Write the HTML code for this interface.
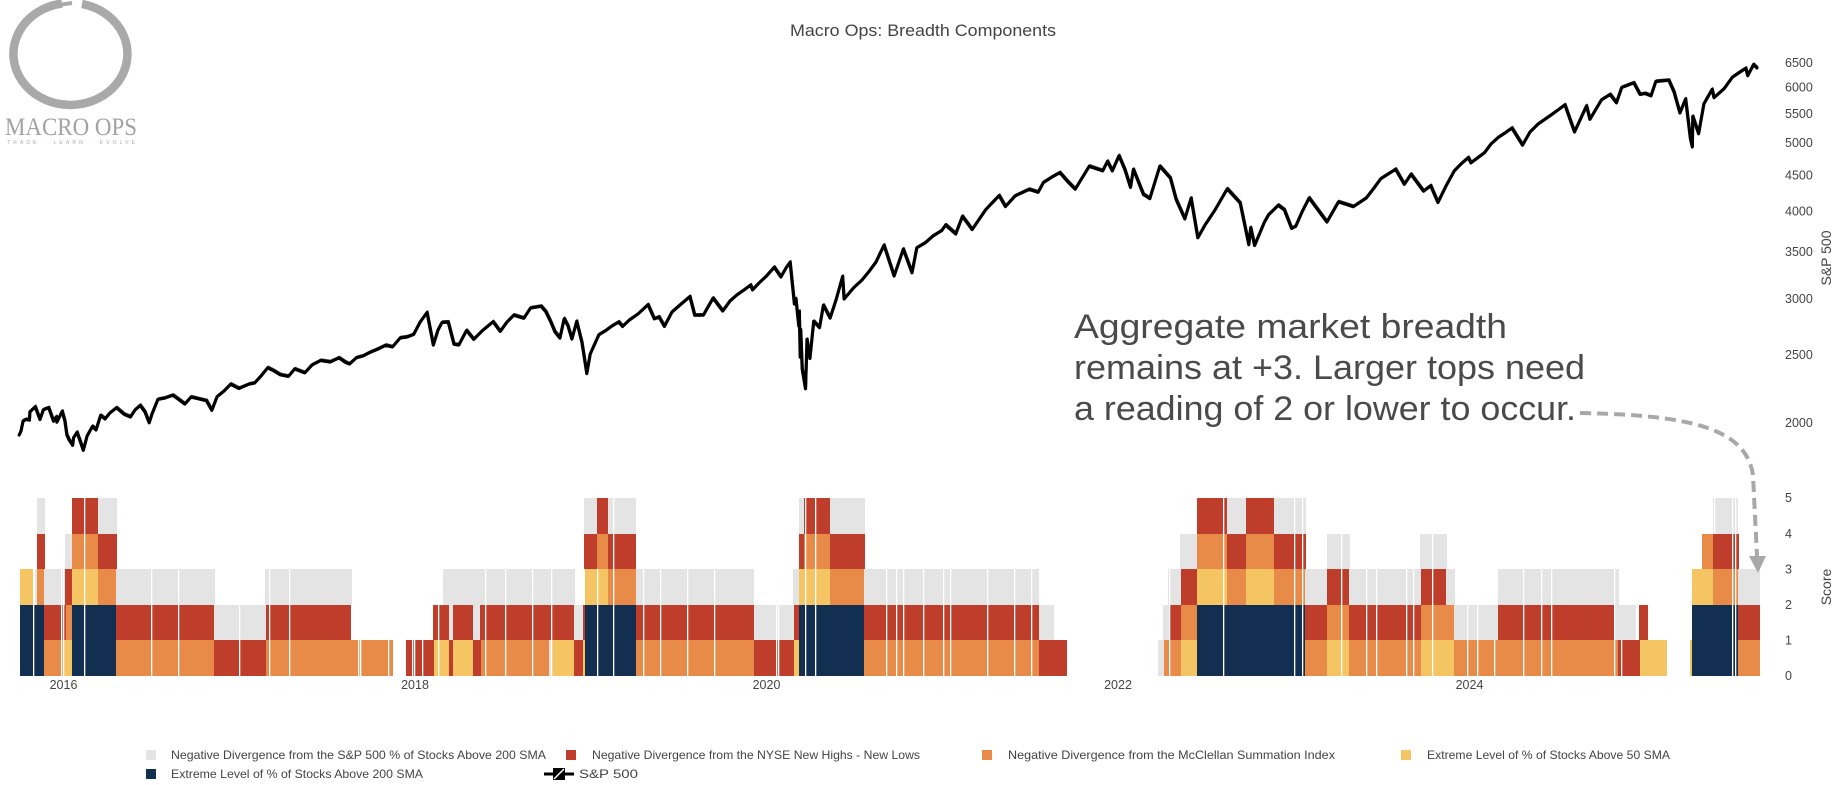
<!DOCTYPE html>
<html><head><meta charset="utf-8"><style>
html,body{margin:0;padding:0;background:#fff;}
svg{display:block;font-family:"Liberation Sans",Arial,sans-serif;}
.g{fill:#e4e4e4}.r{fill:#bf3e2b}.o{fill:#e88b49}.y{fill:#f5c463}.n{fill:#122e50}
.t{fill:#444;font-size:12.5px}
</style></head><body>
<svg width="1841" height="785" viewBox="0 0 1841 785" xmlns="http://www.w3.org/2000/svg">
<rect width="1841" height="785" fill="#fff"/>

<!-- Logo -->
<g>
<path d="M82,4 A57,51 0 1 1 62,3.5" fill="none" stroke="#a9a9a9" stroke-width="8.5"/>
<path d="M22,30 A52,48 0 0 0 40,98" fill="none" stroke="#a9a9a9" stroke-width="4"/>
<path d="M40,12 C52,6 62,4 72,3" fill="none" stroke="#a9a9a9" stroke-width="4"/>
<text x="5" y="135" font-family="Liberation Serif, serif" font-size="25" fill="#a3a3a3" textLength="132" lengthAdjust="spacingAndGlyphs">MACRO OPS</text>
<text x="7" y="144" font-family="Liberation Sans, sans-serif" font-size="5" fill="#aaa" textLength="128" lengthAdjust="spacing">TRADE · LEARN · EVOLVE</text>
</g>

<!-- Title -->
<text x="790" y="36" font-size="17" fill="#444" textLength="266" lengthAdjust="spacingAndGlyphs">Macro Ops: Breadth Components</text>

<!-- S&P axis ticks -->
<g class="t" dominant-baseline="central">
<text x="1785" y="63">6500</text>
<text x="1785" y="87.5">6000</text>
<text x="1785" y="114">5500</text>
<text x="1785" y="143">5000</text>
<text x="1785" y="175.5">4500</text>
<text x="1785" y="211.5">4000</text>
<text x="1785" y="252">3500</text>
<text x="1785" y="299">3000</text>
<text x="1785" y="355">2500</text>
<text x="1785" y="423">2000</text>
<text x="1785" y="498">5</text>
<text x="1785" y="534">4</text>
<text x="1785" y="569.5">3</text>
<text x="1785" y="605">2</text>
<text x="1785" y="640.5">1</text>
<text x="1785" y="676">0</text>
</g>
<text transform="translate(1831,258) rotate(-90)" text-anchor="middle" font-size="14" fill="#444">S&amp;P 500</text>
<text transform="translate(1831,587) rotate(-90)" text-anchor="middle" font-size="14" fill="#444">Score</text>

<!-- x axis labels -->
<g class="t" text-anchor="middle" dominant-baseline="central">
<text x="63.5" y="685">2016</text>
<text x="415" y="685">2018</text>
<text x="766.5" y="685">2020</text>
<text x="1118" y="685">2022</text>
<text x="1469.5" y="685">2024</text>
</g>

<!-- Heatmap rows -->
<g>
<!-- R5 -->
<g transform="translate(0,498)">
<rect class="g" x="37" width="8" height="36"/><rect class="r" x="72" width="26" height="36"/><rect class="g" x="98" width="19" height="36"/>
<rect class="g" x="584" width="13" height="36"/><rect class="r" x="597" width="11" height="36"/><rect class="g" x="608" width="28" height="36"/>
<rect class="g" x="799" width="5" height="36"/><rect class="r" x="804" width="26" height="36"/><rect class="g" x="830" width="35" height="36"/>
<rect class="r" x="1197" width="30" height="36"/><rect class="g" x="1227" width="19" height="36"/><rect class="r" x="1246" width="28" height="36"/><rect class="g" x="1274" width="32" height="36"/>
<rect class="g" x="1713" width="25" height="36"/>
</g>
<!-- R4 -->
<g transform="translate(0,534)">
<rect class="r" x="37" width="8" height="35"/><rect class="g" x="65" width="7" height="35"/><rect class="o" x="72" width="26" height="35"/><rect class="r" x="98" width="19" height="35"/>
<rect class="r" x="584" width="13" height="35"/><rect class="o" x="597" width="11" height="35"/><rect class="r" x="608" width="28" height="35"/>
<rect class="r" x="799" width="5" height="35"/><rect class="o" x="804" width="26" height="35"/><rect class="r" x="830" width="35" height="35"/>
<rect class="g" x="1180" width="17" height="35"/><rect class="o" x="1197" width="30" height="35"/><rect class="r" x="1227" width="19" height="35"/><rect class="o" x="1246" width="28" height="35"/><rect class="r" x="1274" width="32" height="35"/>
<rect class="g" x="1327" width="23" height="35"/><rect class="g" x="1420" width="27" height="35"/>
<rect class="o" x="1702" width="11" height="35"/><rect class="r" x="1713" width="26" height="35"/>
</g>
<!-- R3 -->
<g transform="translate(0,569)">
<rect class="y" x="20" width="13" height="36"/><rect class="g" x="35" width="2" height="36"/><rect class="o" x="37" width="7" height="36"/><rect class="g" x="44" width="21" height="36"/><rect class="r" x="65" width="7" height="36"/>
<rect class="y" x="72" width="26" height="36"/><rect class="o" x="98" width="18" height="36"/><rect class="g" x="116" width="99" height="36"/><rect class="g" x="265" width="87" height="36"/>
<rect class="g" x="443" width="132" height="36"/><rect class="y" x="585" width="23" height="36"/><rect class="o" x="608" width="28" height="36"/><rect class="g" x="636" width="118" height="36"/>
<rect class="g" x="793" width="6" height="36"/><rect class="y" x="799" width="31" height="36"/><rect class="o" x="830" width="34" height="36"/><rect class="g" x="864" width="175" height="36"/>
<rect class="g" x="1168" width="13" height="36"/><rect class="r" x="1181" width="16" height="36"/><rect class="y" x="1197" width="30" height="36"/><rect class="o" x="1227" width="19" height="36"/><rect class="y" x="1246" width="28" height="36"/><rect class="o" x="1274" width="31" height="36"/>
<rect class="g" x="1305" width="22" height="36"/><rect class="r" x="1327" width="22" height="36"/><rect class="g" x="1349" width="72" height="36"/><rect class="r" x="1421" width="25" height="36"/><rect class="g" x="1446" width="9" height="36"/>
<rect class="g" x="1498" width="121" height="36"/><rect class="y" x="1692" width="21" height="36"/><rect class="o" x="1713" width="25" height="36"/><rect class="g" x="1738" width="22" height="36"/>
</g>
<!-- R2 -->
<g transform="translate(0,605)">
<rect class="n" x="20" width="24" height="35"/><rect class="r" x="44" width="22" height="35"/><rect class="o" x="66" width="6" height="35"/><rect class="n" x="72" width="44" height="35"/>
<rect class="r" x="116" width="98" height="35"/><rect class="g" x="214" width="52" height="35"/><rect class="r" x="266" width="85" height="35"/>
<rect class="r" x="433" width="16" height="35"/><rect class="g" x="449" width="4" height="35"/><rect class="r" x="453" width="20" height="35"/><rect class="g" x="473" width="7" height="35"/><rect class="r" x="480" width="94" height="35"/>
<rect class="g" x="574" width="9" height="35"/><rect class="r" x="583" width="2" height="35"/><rect class="n" x="585" width="51" height="35"/><rect class="r" x="636" width="118" height="35"/>
<rect class="g" x="754" width="40" height="35"/><rect class="r" x="794" width="5" height="35"/><rect class="n" x="799" width="65" height="35"/><rect class="r" x="864" width="175" height="35"/><rect class="g" x="1039" width="15" height="35"/>
<rect class="g" x="1163" width="7" height="35"/><rect class="r" x="1170" width="11" height="35"/><rect class="o" x="1181" width="16" height="35"/><rect class="n" x="1197" width="108" height="35"/>
<rect class="r" x="1305" width="22" height="35"/><rect class="o" x="1327" width="22" height="35"/><rect class="r" x="1349" width="72" height="35"/><rect class="o" x="1421" width="33" height="35"/>
<rect class="g" x="1454" width="44" height="35"/><rect class="r" x="1498" width="116" height="35"/><rect class="g" x="1614" width="22" height="35"/><rect class="r" x="1639" width="9" height="35"/>
<rect class="n" x="1692" width="46" height="35"/><rect class="r" x="1738" width="22" height="35"/>
</g>
<!-- R1 -->
<g transform="translate(0,640)">
<rect class="n" x="20" width="24" height="36"/><rect class="o" x="44" width="20" height="36"/><rect class="y" x="64" width="8" height="36"/><rect class="n" x="72" width="44" height="36"/>
<rect class="o" x="116" width="98" height="36"/><rect class="r" x="214" width="52" height="36"/><rect class="o" x="266" width="127" height="36"/>
<rect class="r" x="406" width="28" height="36"/><rect class="y" x="434" width="15" height="36"/><rect class="r" x="449" width="4" height="36"/><rect class="y" x="453" width="20" height="36"/><rect class="r" x="473" width="8" height="36"/>
<rect class="o" x="481" width="68" height="36"/><rect class="g" x="549" width="3" height="36"/><rect class="y" x="552" width="22" height="36"/><rect class="r" x="574" width="9" height="36"/><rect class="y" x="583" width="2" height="36"/>
<rect class="n" x="585" width="51" height="36"/><rect class="o" x="636" width="118" height="36"/><rect class="r" x="754" width="40" height="36"/><rect class="y" x="794" width="5" height="36"/><rect class="n" x="799" width="65" height="36"/>
<rect class="o" x="864" width="175" height="36"/><rect class="r" x="1039" width="28" height="36"/>
<rect class="g" x="1158" width="6" height="36"/><rect class="o" x="1164" width="17" height="36"/><rect class="y" x="1181" width="16" height="36"/><rect class="n" x="1197" width="108" height="36"/>
<rect class="o" x="1305" width="22" height="36"/><rect class="y" x="1327" width="22" height="36"/><rect class="o" x="1349" width="72" height="36"/><rect class="y" x="1421" width="33" height="36"/>
<rect class="o" x="1454" width="164" height="36"/><rect class="r" x="1618" width="22" height="36"/><rect class="y" x="1640" width="27" height="36"/>
<rect class="y" x="1690" width="2" height="36"/><rect class="n" x="1692" width="46" height="36"/><rect class="o" x="1738" width="22" height="36"/>
</g>
<!-- white separators -->
<g fill="#fff">
<rect x="33" y="498" width="1.3" height="178"/><rect x="61" y="498" width="1.3" height="178"/><rect x="63" y="569" width="1.3" height="107"/>
<rect x="84" y="498" width="1.3" height="178"/><rect x="151" y="569" width="1.3" height="107"/><rect x="178" y="569" width="1.3" height="107"/>
<rect x="239" y="569" width="1.3" height="107"/><rect x="269" y="569" width="1.3" height="107"/><rect x="289" y="569" width="1.3" height="107"/>
<rect x="358" y="640" width="1.3" height="36"/><rect x="360" y="640" width="1.3" height="36"/><rect x="388" y="640" width="1.3" height="36"/>
<rect x="412" y="605" width="1.3" height="71"/><rect x="414" y="605" width="1.3" height="71"/><rect x="422" y="605" width="1.3" height="71"/><rect x="438" y="569" width="1.3" height="107"/>
<rect x="485" y="569" width="1.3" height="107"/><rect x="505" y="569" width="1.3" height="107"/><rect x="532" y="569" width="1.3" height="107"/><rect x="551" y="569" width="1.3" height="107"/>
<rect x="597" y="569" width="1.3" height="107"/><rect x="613" y="498" width="1.3" height="178"/><rect x="643" y="569" width="1.3" height="107"/><rect x="660" y="569" width="1.3" height="107"/>
<rect x="687" y="569" width="1.3" height="107"/><rect x="714" y="569" width="1.3" height="107"/><rect x="776" y="605" width="1.3" height="71"/><rect x="778" y="605" width="1.3" height="71"/>
<rect x="805" y="498" width="1.3" height="178"/><rect x="815" y="498" width="1.3" height="178"/>
<rect x="886" y="569" width="1.3" height="107"/><rect x="896" y="569" width="1.3" height="107"/><rect x="903" y="569" width="1.3" height="107"/><rect x="923" y="569" width="1.3" height="107"/>
<rect x="943" y="569" width="1.3" height="107"/><rect x="950" y="569" width="1.3" height="107"/><rect x="987" y="569" width="1.3" height="107"/><rect x="1014" y="569" width="1.3" height="107"/><rect x="1031" y="569" width="1.3" height="107"/>
<rect x="1169" y="569" width="1.3" height="107"/><rect x="1223" y="498" width="1.3" height="178"/><rect x="1294" y="498" width="1.3" height="178"/><rect x="1302" y="498" width="1.3" height="178"/>
<rect x="1341" y="534" width="1.3" height="142"/><rect x="1366" y="569" width="1.3" height="107"/><rect x="1376" y="569" width="1.3" height="107"/><rect x="1406" y="569" width="1.3" height="107"/><rect x="1413" y="569" width="1.3" height="107"/>
<rect x="1432" y="534" width="1.3" height="142"/><rect x="1467" y="605" width="1.3" height="71"/><rect x="1477" y="605" width="1.3" height="71"/><rect x="1494" y="640" width="1.3" height="36"/>
<rect x="1523" y="569" width="1.3" height="107"/><rect x="1541" y="569" width="1.3" height="107"/><rect x="1551" y="569" width="1.3" height="107"/><rect x="1614" y="569" width="1.3" height="107"/><rect x="1621" y="640" width="1.3" height="36"/>
<rect x="1714" y="498" width="1.3" height="36"/><rect x="1732" y="498" width="1.3" height="178"/><rect x="1735" y="498" width="1.3" height="178"/>
</g>
</g>

<!-- S&P 500 line -->
<defs>
<polyline id="spx" fill="none" stroke-linejoin="round" stroke-linecap="round" points="
19.2,435.0 21,431 23.1,420.9 26.0,419.5 29.4,420.1 29.9,411.8 35.2,406.8 40.0,419.5 43.4,409.7 48.7,407.8 53.5,421.2 56.4,416.8 56.9,422.2 62.2,411.3
64.9,421.2 66.9,435.1 69.3,440.3 72.6,445.3 73.6,437.7 77.0,432.3 80.4,441.9 83.3,450.3 87.1,436.0 92.4,426.4 96,430 100.6,415.5 105,419 109.7,413.1 116.5,407.8
124.2,414.4 130.4,417.0 135,410 140.1,405.4 145,412 149.2,422.8 152,414 157.9,399.4 165,398 172.8,395.3 178,399 184.8,404.1 191.0,397.1 199,399 206.5,400.8 211.8,410.3
217.1,396.7 224,391 230.6,384.2 238.8,388.5 248.9,384.2 254.6,383.0 261,376 267.7,367.8 274,371 280.2,374.8 288.4,376.4 294.6,369.0 304.7,372.9 312,365 320.6,360.6
330,362 338.9,357.9 345.7,362.5 349.5,364.0 356.3,357.8 363,356 369.8,352.5 378,349 385.6,345.3 392.4,347.0 400.1,338.0 407,337 413.6,334.5
420.3,321.8 427.0,312.5 431.8,337.1 433.3,345.1 438,330 442.0,322.5 448.2,322.1 454.0,344.3 458.8,345.0 466.5,330.5 473.7,339.4 482,331 493.0,321.8 500.2,331.4
507,322 513.7,315.2 523.8,318.3 530.5,308.1 541.1,306.3 546,312 550.7,321.8 555,332 559.9,338.1 564.2,318.7 568,326 571.9,339.0 576.7,321.4 582.0,342.9 586.8,373.6 590.2,354.0
598.9,334.7 605.2,330.9 612,326 618.7,322.0 622.5,326.5 629.3,320.1 638,314 648.0,304.7 654.3,318.9 659,317 664.4,326.4 672,312 680,305 689.9,296.6 694.7,315.3 703.4,315.1
713.0,298.2 722.7,311.0 730,301 736.6,295.2 744,290 750.6,285.1 752.5,289.9 759,283 766.0,276.5 774.2,267.3 780.9,277.0 786,268 790.1,262.2 794.4,304.0 795.9,298.9
798.8,326.1 799.3,311.4 800.2,357.2 800.7,330.1 802.2,369.1 805.5,388.8 807.0,339.4 809.9,358.5 813.7,321.4 819.5,327.7 823.4,305.3 830.1,318.1 836,300 842.6,276.5 844.1,299.0
853.7,287.7 862,280 869.6,270.7 876,262 884.0,245.2 894.1,276.0 903.3,249.2 912.0,272.8 916.8,247.8 925,243 933,236 941.8,230.5 945.6,225.0 955.7,234.0 962.4,216.4
972.1,229.6 985.6,209.8 992,203 999.1,195.6 1005.4,206.6 1015,196 1029.0,189.4 1038.1,192.3 1043.4,182.5 1052,177 1059.8,172.7 1068,182 1075.2,189.2 1089.2,166.3
1102.7,170.9 1107.5,161.4 1112.3,170.9 1119.0,155.8 1125,170 1130.5,187.4 1133.4,169.4 1143.5,194.6 1149.8,198.6 1159.8,166.3 1170.4,178.2 1176.2,199.7 1184.8,218.9
1191.1,198.2 1197.8,237.8 1205.0,225.0 1215,210 1227.2,188.9 1240.2,203.1 1248.8,244.7 1250.7,227.7 1254.6,245.5 1264.2,222.6 1268.5,214.8 1278.2,205.3 1284.4,210.0
1291.6,228.4 1295.7,226.3 1302,212 1309.1,198.0 1318,210 1326.9,222.1 1338.4,201.9 1353.3,206.7 1366.3,198.0 1374,188 1380.7,178.8 1395.6,169.3 1404.3,184.3 1411.0,174.3
1423.5,191.2 1430.7,185.7 1437.9,202.5 1446,186 1454.3,170.9 1461,164 1468.3,157.6 1470.9,162.9 1484.4,152.8 1491,144 1498.4,137.3 1505,133 1511.9,128.1 1522.5,145.2
1530,132 1537.9,124.2 1551.4,114.8 1558,110 1564.9,104.9 1574.5,132.0 1586.5,105.9 1589.9,119.3 1601.5,99.8 1610.1,94.5 1616.4,102.8 1621.7,87.5 1633.8,82.9 1640.0,94.4
1645.3,93.6 1651.0,95.9 1655.8,81.5 1668.8,80.3 1674,92 1679.9,113.0 1685.6,99.0 1690.4,138.7 1692.3,147 1692.8,116.5 1698.6,133.7 1703.9,103.8 1712.1,89.4 1714.0,97.7
1724.1,88.7 1732.3,77.3 1740,72 1745.8,68.3 1747.7,75.7 1753.5,64.6 1756.9,68.0"/>
</defs>
<use href="#spx" stroke="#000" stroke-width="3.2"/>
<use href="#spx" stroke="#000" stroke-width="2" transform="translate(0.6,-1.2)" opacity="0.8"/>

<!-- Annotation -->
<g fill="#4a4a4a" font-size="34">
<text x="1074" y="338" textLength="433" lengthAdjust="spacingAndGlyphs">Aggregate market breadth</text>
<text x="1074" y="379" textLength="511" lengthAdjust="spacingAndGlyphs">remains at +3. Larger tops need</text>
<text x="1074" y="420" textLength="502" lengthAdjust="spacingAndGlyphs">a reading of 2 or lower to occur.</text>
</g>
<path d="M1580,413 C1690,415 1746,428 1753,475 L1757,556" fill="none" stroke="#a8a8a8" stroke-width="4" stroke-dasharray="11 6"/>
<polygon points="1749,556 1766,556 1758,573" fill="#a8a8a8"/>

<!-- Legend -->
<g font-size="12" fill="#444" dominant-baseline="central">
<rect class="g" x="146" y="750" width="10" height="10"/>
<text x="171" y="755" textLength="375" lengthAdjust="spacingAndGlyphs">Negative Divergence from the S&amp;P 500 % of Stocks Above 200 SMA</text>
<rect class="r" x="566" y="750" width="10" height="10"/>
<text x="592" y="755" textLength="328" lengthAdjust="spacingAndGlyphs">Negative Divergence from the NYSE New Highs - New Lows</text>
<rect class="o" x="982" y="750" width="10" height="10"/>
<text x="1008" y="755" textLength="327" lengthAdjust="spacingAndGlyphs">Negative Divergence from the McClellan Summation Index</text>
<rect class="y" x="1401" y="750" width="10" height="10"/>
<text x="1427" y="755" textLength="243" lengthAdjust="spacingAndGlyphs">Extreme Level of % of Stocks Above 50 SMA</text>
<rect class="n" x="146" y="769" width="10" height="10"/>
<text x="171" y="774" textLength="252" lengthAdjust="spacingAndGlyphs">Extreme Level of % of Stocks Above 200 SMA</text>
<line x1="544" y1="774" x2="574" y2="774" stroke="#000" stroke-width="3"/>
<rect x="553" y="768" width="12" height="12" fill="#000"/>
<path d="M554,779 L564,769" stroke="#fff" stroke-width="1.5"/>
<text x="579" y="774" textLength="59" lengthAdjust="spacingAndGlyphs">S&amp;P 500</text>
</g>
</svg>
</body></html>
